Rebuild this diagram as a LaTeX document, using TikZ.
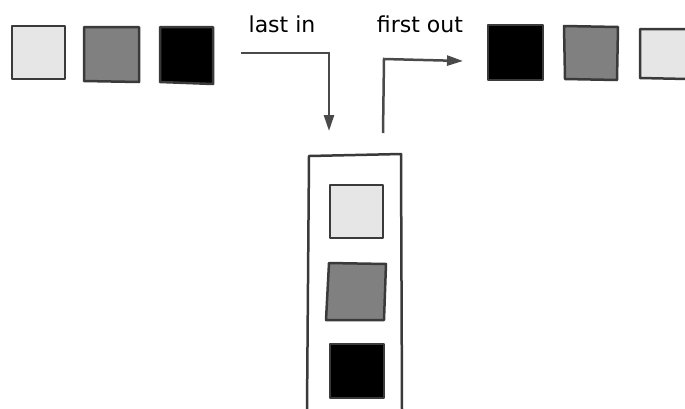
\documentclass[tikz,border=0pt]{standalone}
\usepackage{fontspec}
\setmainfont{DejaVu Sans}
\usetikzlibrary{arrows.meta}
\definecolor{lightbox}{HTML}{E6E6E6}
\definecolor{midbox}{HTML}{808080}
\definecolor{edge}{HTML}{3A3A3A}
\definecolor{arrowc}{HTML}{4A4A4A}
\tikzset{
  boxline/.style={draw=edge, line width=2.5pt, line join=round},
  lightsq/.style={boxline, fill=lightbox},
  graysq/.style={boxline, fill=midbox},
  blacksq/.style={boxline, fill=black},
  flowarrow/.style={draw=arrowc, line width=2.5pt, -{Triangle[length=16pt,width=10pt]}},
  tube/.style={draw=edge, line width=2.5pt, line join=round},
  lab/.style={font=\fontsize{22}{26}\selectfont, text=black, inner sep=0pt}
}
\begin{document}
\begin{tikzpicture}[x=1pt,y=-1pt]
\useasboundingbox (0,0) rectangle (685,408);
% left queue
\path[lightsq] (12,26) -- (65,26) -- (65,79) -- (12,79) -- cycle;
\path[graysq] (84,27) -- (139,27) -- (139,82) -- (84,81) -- cycle;
\path[blacksq] (160,27) -- (213,27) -- (213,84) -- (160,82) -- cycle;
% right queue
\path[blacksq] (488,25) -- (543,25) -- (543,80) -- (488,80) -- cycle;
\path[graysq] (564,26) -- (618,27) -- (617,80) -- (565,79) -- cycle;
\path[lightsq] (687,29) -- (640,29) -- (640,78) -- (687,79);
% labels
\node[lab, anchor=base] (lastin) at (282,32) {last in};
\node[lab, anchor=base] (firstout) at (420,32) {first out};
% arrows
\coordinate (inS) at (241,53);
\coordinate (inC) at (329,53);
\coordinate (inE) at (329,131);
\coordinate (outS) at (383,133);
\coordinate (outC) at (384,59);
\coordinate (outE) at (463,61);
\draw[flowarrow] (inS) -- (inC) -- (inE);
\draw[flowarrow] (outS) -- (outC) -- (outE);
% stack tube
\coordinate (tBL) at (307,410);
\coordinate (tTL) at (309,156);
\coordinate (tTR) at (401,154);
\coordinate (tBR) at (402,410);
\draw[tube] (tBL) -- (tTL) -- (tTR) -- (tBR);
% stacked items
\path[lightsq] (330,185) -- (383,185) -- (383,238) -- (330,238) -- cycle;
\path[graysq] (329,263) -- (386,264) -- (384,320) -- (326,320) -- cycle;
\path[blacksq] (330,344) -- (384,344) -- (384,398) -- (330,398) -- cycle;
\end{tikzpicture}
\end{document}
